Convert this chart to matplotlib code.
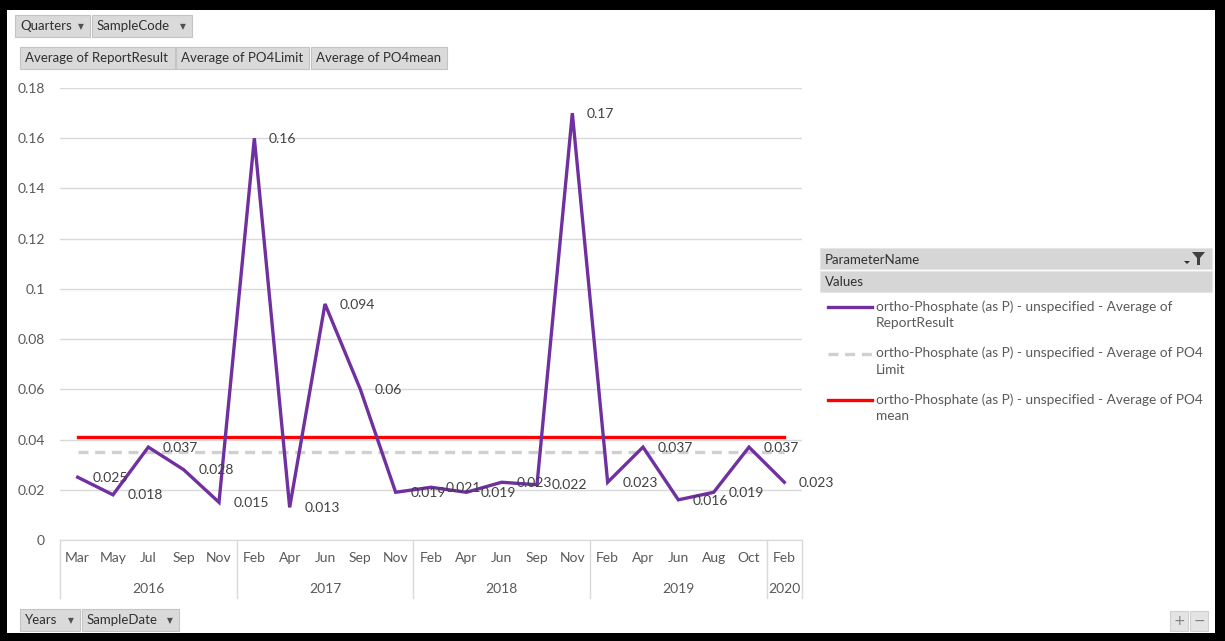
import matplotlib

matplotlib.use('Agg')
import matplotlib.pyplot as plt
from matplotlib.patches import Rectangle, Polygon
from matplotlib.lines import Line2D
import matplotlib.transforms as mtransforms

plt.rcParams['font.family'] = ['Lato', 'DejaVu Sans']

# данные
months = ['Mar', 'May', 'Jul', 'Sep', 'Nov',
          'Feb', 'Apr', 'Jun', 'Sep', 'Nov',
          'Feb', 'Apr', 'Jun', 'Sep', 'Nov',
          'Feb', 'Apr', 'Jun', 'Aug', 'Oct',
          'Feb']
years = ['2016', '2017', '2018', '2019', '2020']
year_sizes = [5, 5, 5, 5, 1]
report_result = [0.025, 0.018, 0.037, 0.028, 0.015,
                 0.16, 0.013, 0.094, 0.06, 0.019,
                 0.021, 0.019, 0.023, 0.022, 0.17,
                 0.023, 0.037, 0.016, 0.019, 0.037,
                 0.023]
po4_limit = [0.035] * len(months)
po4_mean = [0.041] * len(months)
yticks = [0, 0.02, 0.04, 0.06, 0.08, 0.1, 0.12, 0.14, 0.16, 0.18]
ytick_labels = ['0', '0.02', '0.04', '0.06', '0.08', '0.1', '0.12', '0.14', '0.16', '0.18']
legend_labels = [
    'ortho-Phosphate (as P) - unspecified - Average of\nReportResult',
    'ortho-Phosphate (as P) - unspecified - Average of PO4\nLimit',
    'ortho-Phosphate (as P) - unspecified - Average of PO4\nmean',
]

W, H = 1225, 641
PURPLE = '#7030A0'
RED = '#FF0000'
LGREY = '#D0D0D0'
TXT = '#595959'


def fx(px):
    return px / W


def fy(py):
    return 1 - py / H


fig = plt.figure(figsize=(W / 100, H / 100), dpi=100, facecolor='black')
# белая область внутри чёрной рамки
fig.add_artist(Rectangle((fx(7), fy(633)), fx(1215) - fx(7), fy(10) - fy(633),
                         transform=fig.transFigure, facecolor='white', edgecolor='none', zorder=0))

ax = fig.add_axes([fx(60), fy(540), fx(802) - fx(60), fy(88) - fy(540)])
ax.set_facecolor('none')
x = list(range(len(months)))

ax.plot(x, report_result, color=PURPLE, lw=2.4, zorder=3, solid_joinstyle='miter')
ax.plot(x, po4_limit, color=LGREY, lw=2.4, ls=(0, (3, 2)), zorder=2)
ax.plot(x, po4_mean, color=RED, lw=2.4, zorder=2)

for xi, v in zip(x, report_result):
    ax.annotate(f'{v:g}', (xi, v), xytext=(10.5, -0.5), textcoords='offset points',
                ha='left', va='center', fontsize=10, color='#404040', zorder=4)

ax.set_xlim(-0.5, len(months) - 0.5)
ax.set_ylim(0, 0.18)
ax.set_yticks(yticks)
ax.set_yticklabels(ytick_labels, fontsize=10, color=TXT)
ax.tick_params(axis='y', length=0, pad=11)
ax.yaxis.grid(True, color='#D9D9D9', lw=1)
ax.set_axisbelow(True)
for s in ['top', 'right', 'left']:
    ax.spines[s].set_visible(False)
ax.spines['bottom'].set_color('#D9D9D9')

ax.set_xticks(x)
ax.set_xticklabels(months, fontsize=10, color=TXT)
ax.tick_params(axis='x', length=0, pad=9)

# подписи годов и разделители
trans = mtransforms.blended_transform_factory(ax.transData, ax.transAxes)
y_sep = (540 - 598) / 452
y_year = (540 - 589) / 452
start = 0
edges = [-0.5]
for yr, n in zip(years, year_sizes):
    center = start + (n - 1) / 2
    ax.text(center, y_year, yr, transform=trans, ha='center', va='center',
            fontsize=10, color=TXT)
    start += n
    edges.append(start - 0.5)
for e in edges:
    ax.plot([e, e], [0, y_sep], transform=trans, color='#D9D9D9', lw=1, clip_on=False)


# кнопки сводной диаграммы
def button(x0, y0, x1, y1, label, arrow=True):
    fig.add_artist(Rectangle((fx(x0), fy(y1)), fx(x1) - fx(x0), fy(y0) - fy(y1),
                             transform=fig.transFigure, facecolor='#DADADA',
                             edgecolor='#C4C4C4', lw=0.8))
    fig.text(fx(x0 + 5), fy((y0 + y1) / 2), label, fontsize=9.5, color='#303030',
             ha='left', va='center')
    if arrow:
        fig.text(fx(x1 - 6), fy((y0 + y1) / 2 + 1), '\u25bc', fontsize=5.5, color='#505050',
                 ha='right', va='center', family='DejaVu Sans')


button(15, 15, 90, 37, 'Quarters')
button(92, 15, 192, 37, 'SampleCode')
button(20, 47, 175, 69, 'Average of ReportResult', arrow=False)
button(176, 47, 309, 69, 'Average of PO4Limit', arrow=False)
button(311, 47, 447, 69, 'Average of PO4mean', arrow=False)
button(20, 609, 80, 631, 'Years')
button(82, 609, 179, 631, 'SampleDate')

# кнопки +/-
for bx0, sym in [(1170, '+'), (1190, '\u2212')]:
    fig.add_artist(Rectangle((fx(bx0), fy(631)), fx(18), 20 / H, transform=fig.transFigure,
                             facecolor='#E4E4E4', edgecolor='#D0D0D0', lw=0.8))
    fig.text(fx(bx0 + 9), fy(621), sym, fontsize=10, color='#808080', ha='center',
             va='center', family='DejaVu Sans')

# легенда
for (y0, y1, label) in [(248, 269, 'ParameterName'), (271, 292, 'Values')]:
    fig.add_artist(Rectangle((fx(820), fy(y1)), fx(1212) - fx(820), fy(y0) - fy(y1),
                             transform=fig.transFigure, facecolor='#D6D6D6',
                             edgecolor='#E6E6E6', lw=0.8))
    fig.text(fx(825), fy((y0 + y1) / 2 + 1), label, fontsize=9.5, color='#303030',
             ha='left', va='center')
# значок фильтра
fig.add_artist(Polygon([(fx(1192), fy(252)), (fx(1205), fy(252)), (fx(1200), fy(258)),
                        (fx(1200), fy(265)), (fx(1197), fy(265)), (fx(1197), fy(258))],
                       closed=True, transform=fig.transFigure, facecolor='#404040',
                       edgecolor='none'))
fig.add_artist(Polygon([(fx(1184), fy(261)), (fx(1190), fy(261)), (fx(1187), fy(264))],
                       closed=True, transform=fig.transFigure, facecolor='#303030',
                       edgecolor='none'))

styles = [dict(color=PURPLE, ls='-'), dict(color=LGREY, ls=(0, (3, 2))), dict(color=RED, ls='-')]
for i, (label, st) in enumerate(zip(legend_labels, styles)):
    ly = 307 + i * 46.5
    fig.add_artist(Line2D([fx(828), fx(872)], [fy(ly), fy(ly)], transform=fig.transFigure,
                          lw=2.4, **st))
    fig.text(fx(876), fy(ly - 7), label, fontsize=9.8, color=TXT, ha='left', va='top',
             linespacing=1.45)

fig.savefig('out.png', dpi=100, facecolor='black')
